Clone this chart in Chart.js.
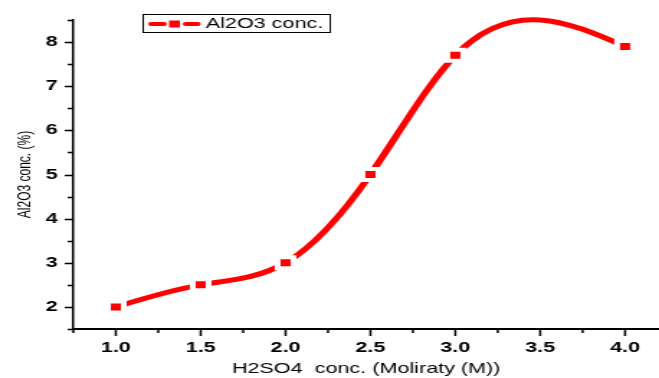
<!DOCTYPE html>
<html>
<head>
<meta charset="utf-8">
<script src="https://cdn.jsdelivr.net/npm/chart.js@4.4.0/dist/chart.umd.min.js"></script>
<style>
  body { margin: 0; background: #fff; overflow: hidden; }
  /* the original figure is a horizontally stretched export, so stretch the canvas the same way */
  #chart1 { transform-origin: 0 0; transform: scaleX(1.4389); }
</style>
</head>
<body>
<canvas id="chart1" width="458" height="378"></canvas>
<script>
// data
const molarity = [1.0, 1.5, 2.0, 2.5, 3.0, 4.0];
const al2o3 = [2.0, 2.5, 3.0, 5.0, 7.7, 7.9];
const seriesLabel = 'Al2O3 conc.';
const xTitle = 'H2SO4  conc. (Moliraty (M))';
const yTitle = 'Al2O3 conc. (%)';

const FONT = 'Arial, "Liberation Sans", sans-serif';
const RED = '#ff0000';

function isMajor(v, step) {
  const r = v / step;
  return Math.abs(r - Math.round(r)) < 1e-6;
}

// slopes of a natural cubic spline y(x) through the points (like Origin's "Spline" connector)
function naturalSlopes(xs, ys) {
  const n = xs.length;
  const h = [], s = [];
  for (let i = 0; i < n - 1; i++) {
    h.push(xs[i + 1] - xs[i]);
    s.push((ys[i + 1] - ys[i]) / h[i]);
  }
  const a = [], b = [], c = [], r = [];
  for (let i = 1; i < n - 1; i++) {
    a.push(h[i - 1]);
    b.push(2 * (h[i - 1] + h[i]));
    c.push(h[i]);
    r.push(6 * (s[i] - s[i - 1]));
  }
  const m = b.length;
  for (let i = 1; i < m; i++) {
    const w = a[i] / b[i - 1];
    b[i] -= w * c[i - 1];
    r[i] -= w * r[i - 1];
  }
  const M = new Array(n).fill(0);
  for (let i = m - 1; i >= 0; i--) {
    M[i + 1] = (r[i] - (i < m - 1 ? c[i] * M[i + 2] : 0)) / b[i];
  }
  const d = [];
  for (let i = 0; i < n - 1; i++) d.push(s[i] - h[i] * (2 * M[i] + M[i + 1]) / 6);
  d.push(s[n - 2] + h[n - 2] * (M[n - 2] + 2 * M[n - 1]) / 6);
  return { h, d };
}

// replace chart.js bezier control points with the natural spline ones
const naturalSpline = {
  id: 'naturalSpline',
  beforeDatasetDraw(chart, args) {
    const meta = args.meta;
    const line = meta.dataset;
    const xs = chart.scales.x;
    const ys = chart.scales.y;
    line.updateControlPoints(chart.chartArea, 'x');
    const { h, d } = naturalSlopes(molarity, al2o3);
    meta.data.forEach((p, i) => {
      const hb = i > 0 ? h[i - 1] : 0;
      const ha = i < h.length ? h[i] : 0;
      p.cp1x = xs.getPixelForValue(molarity[i] - hb / 3);
      p.cp1y = ys.getPixelForValue(al2o3[i] - hb * d[i] / 3);
      p.cp2x = xs.getPixelForValue(molarity[i] + ha / 3);
      p.cp2y = ys.getPixelForValue(al2o3[i] + ha * d[i] / 3);
    });
    line._path = undefined;
  }
};

// outward major/minor tick marks
const tickMarks = {
  id: 'tickMarks',
  afterDraw(chart) {
    const ctx = chart.ctx;
    const xs = chart.scales.x;
    const ys = chart.scales.y;
    ctx.save();
    ctx.strokeStyle = '#000';
    ctx.lineWidth = 1.5;
    ctx.beginPath();
    xs.ticks.forEach(t => {
      const px = xs.getPixelForValue(t.value);
      const len = isMajor(t.value, 0.5) ? 7 : 4;
      ctx.moveTo(px, xs.top);
      ctx.lineTo(px, xs.top + len);
    });
    ys.ticks.forEach(t => {
      const py = Math.round(ys.getPixelForValue(t.value)) + 0.5;
      const len = isMajor(t.value, 1) ? 6 : 4;
      ctx.moveTo(ys.right, py);
      ctx.lineTo(ys.right - len, py);
    });
    ctx.stroke();
    ctx.restore();
  }
};

// boxed legend: line + square symbol and label
const legendBox = {
  id: 'legendBox',
  afterDraw(chart) {
    const ctx = chart.ctx;
    const ds = chart.data.datasets[0];
    const left = chart.chartArea.left + 48;
    const top = 14;
    ctx.save();
    ctx.strokeStyle = '#000';
    ctx.lineWidth = 1;
    ctx.strokeRect(left + 0.5, top + 0.5, 130, 18);
    ctx.strokeStyle = ds.borderColor;
    ctx.lineWidth = 4;
    ctx.lineCap = 'round';
    ctx.beginPath();
    ctx.moveTo(left + 6, top + 10);
    ctx.lineTo(left + 15, top + 10);
    ctx.moveTo(left + 30, top + 10);
    ctx.lineTo(left + 38.5, top + 10);
    ctx.stroke();
    ctx.fillStyle = ds.pointBackgroundColor;
    ctx.fillRect(left + 18.5, top + 6.5, 7.5, 7);
    ctx.fillStyle = '#000';
    ctx.font = '15px ' + FONT;
    ctx.textBaseline = 'middle';
    ctx.fillText(ds.label, left + 44, top + 10);
    ctx.restore();
  }
};

const ctx = document.getElementById('chart1').getContext('2d');
const chart = new Chart(ctx, {
  type: 'line',
  data: {
    datasets: [
      {
        label: seriesLabel,
        data: molarity.map((m, i) => ({ x: m, y: al2o3[i] })),
        borderColor: RED,
        backgroundColor: RED,
        borderWidth: 5,
        tension: 0.4,
        pointStyle: 'rect',
        pointRadius: 7.8,
        pointBorderWidth: 4,
        pointBorderColor: '#fff',
        pointBackgroundColor: RED,
        clip: false
      }
    ]
  },
  options: {
    responsive: false,
    animation: false,
    layout: { autoPadding: false, padding: { top: 20, right: 0, left: 0, bottom: 0 } },
    plugins: {
      legend: { display: false },
      tooltip: { enabled: false }
    },
    scales: {
      x: {
        type: 'linear',
        min: 0.75,
        max: 4.2,
        afterFit: s => { s.height = 49; s.paddingLeft = 0; s.paddingRight = 0; },
        border: { display: true, color: '#000', width: 2 },
        grid: { display: false, drawTicks: true, tickLength: 7 },
        ticks: {
          stepSize: 0.25,
          includeBounds: false,
          autoSkip: false,
          maxRotation: 0,
          padding: 3,
          color: '#000',
          font: { family: FONT, size: 15, weight: 'bold' },
          callback: v => isMajor(v, 0.5) ? v.toFixed(1) : ''
        },
        title: {
          display: true,
          text: xTitle,
          color: '#000',
          font: { family: FONT, size: 15 },
          padding: { top: 0, bottom: 0 }
        }
      },
      y: {
        type: 'linear',
        min: 1.5,
        max: 8.5,
        afterFit: s => { s.width = 51; s.paddingTop = 0; s.paddingBottom = 0; },
        border: { display: true, color: '#000', width: 1.5 },
        grid: { display: false, drawTicks: true, tickLength: 6 },
        ticks: {
          stepSize: 0.5,
          includeBounds: false,
          autoSkip: false,
          padding: 5,
          color: '#000',
          font: { family: FONT, size: 15, weight: 'bold' },
          callback: v => isMajor(v, 1) ? String(v) : ''
        },
        title: {
          display: true,
          text: yTitle,
          color: '#000',
          font: { family: FONT, size: 12 },
          padding: { top: 10, bottom: 0 }
        }
      }
    }
  },
  plugins: [naturalSpline, tickMarks, legendBox]
});
</script>
</body>
</html>
